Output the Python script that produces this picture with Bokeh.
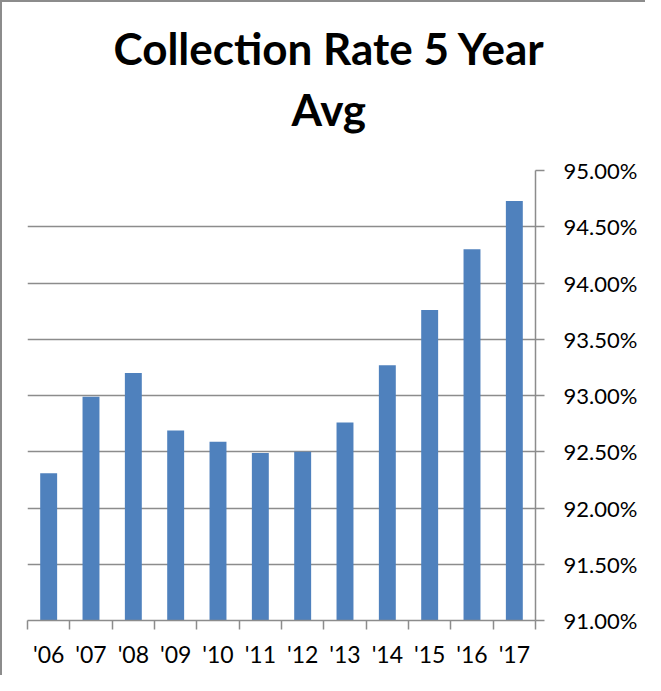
from bokeh.plotting import figure
from bokeh.models import Title, Range1d, FixedTicker, PrintfTickFormatter
from bokeh.embed import file_html
from bokeh.resources import INLINE

years = ["'06", "'07", "'08", "'09", "'10", "'11", "'12", "'13", "'14", "'15", "'16", "'17"]
rates = [92.31, 92.99, 93.20, 92.69, 92.59, 92.49, 92.50, 92.76, 93.27, 93.76, 94.30, 94.73]
y_ticks = [91.0, 91.5, 92.0, 92.5, 93.0, 93.5, 94.0, 94.5, 95.0]
title_line1 = "Collection Rate 5 Year"
title_line2 = "Avg"

centers = [i + 0.5 for i in range(len(years))]
bounds = [float(i) for i in range(len(years) + 1)]

GRAY = "#8c8c8c"
FONT = "Lato"

p = figure(width=645, height=675, output_backend="svg", toolbar_location=None,
           title=None, y_axis_location="right",
           x_range=Range1d(0, len(years)), y_range=Range1d(y_ticks[0], y_ticks[-1]),
           min_border_left=25, min_border_right=112, min_border_bottom=57, min_border_top=168)

p.vbar(x=centers, top=rates, bottom=y_ticks[0], width=0.4, fill_color="#4F81BD", line_color=None)

# spacer between plot area and the two title lines
p.add_layout(Title(text=" ", text_font_size="10px", standoff=16), "above")
p.add_layout(Title(text=title_line2, align="left", text_font=FONT, text_font_style="bold",
                   text_font_size="44px", text_color="black", offset=264, standoff=14), "above")
p.add_layout(Title(text=title_line1, align="left", text_font=FONT, text_font_style="bold",
                   text_font_size="44px", text_color="black", offset=86, standoff=0), "above")

p.outline_line_color = None
p.xgrid.grid_line_color = None
p.ygrid.grid_line_color = GRAY
p.ygrid.grid_line_width = 1.5

# x axis
xa = p.xaxis[0]
xa.ticker = FixedTicker(ticks=centers, minor_ticks=bounds)
xa.major_label_overrides = {c: y for c, y in zip(centers, years)}
xa.major_tick_line_color = None
xa.minor_tick_line_color = GRAY
xa.minor_tick_line_width = 1.5
xa.minor_tick_in = 0
xa.minor_tick_out = 9
xa.axis_line_color = GRAY
xa.axis_line_width = 1.5
xa.major_label_text_font = FONT
xa.major_label_text_font_size = "23px"
xa.major_label_text_color = "black"
xa.major_label_standoff = 10

# y axis
ya = p.yaxis[0]
ya.ticker = FixedTicker(ticks=y_ticks, minor_ticks=[])
ya.formatter = PrintfTickFormatter(format="%.2f%%")
ya.major_tick_in = 0
ya.major_tick_out = 9
ya.major_tick_line_color = GRAY
ya.major_tick_line_width = 1.5
ya.minor_tick_line_color = None
ya.axis_line_color = GRAY
ya.axis_line_width = 1.5
ya.major_label_text_font = FONT
ya.major_label_text_font_size = "22px"
ya.major_label_text_color = "black"
ya.major_label_standoff = 19

p.styles = {"border-left": "2px solid #8c8c8c", "border-top": "2px solid #8c8c8c"}

open("out.html", "w").write(file_html(p, INLINE))
